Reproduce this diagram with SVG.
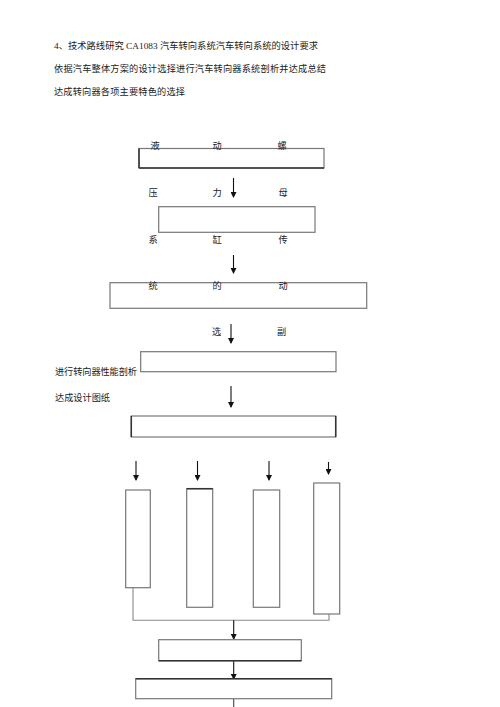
<svg xmlns="http://www.w3.org/2000/svg" width="500" height="707" viewBox="0 0 500 707">
<defs>
<marker id="ah" markerWidth="6" markerHeight="6" refX="5" refY="3" orient="auto" markerUnits="userSpaceOnUse">
<path d="M0,0 L6,3 L0,6 z" fill="#111"/>
</marker>
<style>
.t{font-family:"Liberation Serif","Noto Sans CJK SC",serif;font-size:9.2px;fill:#222}
.l{font-family:"Liberation Serif","Noto Sans CJK SC",serif;font-size:9.2px;fill:#222;text-anchor:middle}
.box{fill:#fff;stroke:#777;stroke-width:1.2}
.edge{stroke:#333;stroke-width:1.5}
.arr{stroke:#111;stroke-width:1.1;fill:none;marker-end:url(#ah)}
.con{stroke:#888;stroke-width:1.1;fill:none}
</style>
</defs>
<rect width="500" height="707" fill="#fff"/>
<g id="header">
<text class="t" x="54" y="48.5" textLength="264" lengthAdjust="spacingAndGlyphs">4、技术路线研究 CA1083 汽车转向系统汽车转向系统的设计要求</text>
<text class="t" x="54" y="72" textLength="272" lengthAdjust="spacing">依据汽车整体方案的设计选择进行汽车转向器系统剖析并达成总结</text>
<text class="t" x="54" y="95" textLength="131" lengthAdjust="spacing">达成转向器各项主要特色的选择</text>
</g>
<g id="connectors">
<line class="arr" x1="233.5" y1="178" x2="233.5" y2="197"/>
<line class="arr" x1="233.5" y1="255" x2="233.5" y2="273"/>
<line class="arr" x1="231" y1="324" x2="231" y2="343"/>
<line class="arr" x1="231" y1="386" x2="231" y2="407"/>
<line class="arr" x1="136" y1="461" x2="136" y2="480"/>
<line class="arr" x1="197.5" y1="461" x2="197.5" y2="480"/>
<line class="arr" x1="269" y1="461" x2="269" y2="480"/>
<line class="arr" x1="328.5" y1="462" x2="328.5" y2="474"/>
<polyline class="con" points="133,587.7 133,620.3 329,620.3 329,614"/>
<line class="arr" x1="233.7" y1="620.3" x2="233.7" y2="639"/>
<line class="arr" x1="233.7" y1="660.7" x2="233.7" y2="679"/>
<line x1="233.7" y1="698.7" x2="233.7" y2="707" stroke="#444" stroke-width="1.1"/>
</g>
<g id="node1">
<rect class="box" x="139" y="148.5" width="185" height="19.5"/>
<line class="edge" x1="139" y1="168" x2="324" y2="168"/>
<line class="edge" x1="139" y1="148.5" x2="139" y2="168"/>
<text class="l" x="155" y="148.5">液</text>
<text class="l" x="217" y="148.5">动</text>
<text class="l" x="282" y="148.5">螺</text>
</g>
<g id="labels2">
<text class="l" x="153" y="196">压</text>
<text class="l" x="217" y="196">力</text>
<text class="l" x="283" y="196">母</text>
</g>
<g id="node2">
<rect class="box" x="158.7" y="206.7" width="156.3" height="25.6"/>
</g>
<g id="labels3">
<text class="l" x="153" y="243">系</text>
<text class="l" x="217" y="243">缸</text>
<text class="l" x="283" y="243">传</text>
</g>
<g id="node3">
<rect class="box" x="110" y="282.7" width="256.7" height="25.6"/>
<text class="l" x="153" y="289">统</text>
<text class="l" x="217" y="289">的</text>
<text class="l" x="283" y="289">动</text>
</g>
<g id="labels4">
<text class="l" x="216.7" y="335">选</text>
<text class="l" x="281.7" y="335">副</text>
</g>
<g id="node4">
<rect class="box" x="140.7" y="351.7" width="195.3" height="20"/>
</g>
<g id="sidelabels">
<text class="t" x="55" y="375" textLength="82" lengthAdjust="spacing">进行转向器性能剖析</text>
<text class="t" x="55" y="401" textLength="55" lengthAdjust="spacing">达成设计图纸</text>
</g>
<g id="node5">
<rect class="box" x="131.3" y="416" width="204.4" height="21"/>
<line class="edge" x1="131.3" y1="416" x2="131.3" y2="437"/>
<line class="edge" x1="335.7" y1="416" x2="335.7" y2="437"/>
</g>
<g id="nodeA">
<rect class="box" x="125.7" y="490" width="24.6" height="97.7"/>
</g>
<g id="nodeB">
<rect class="box" x="186.7" y="488.7" width="26" height="118.6"/>
<line class="edge" x1="186.7" y1="488.7" x2="212.7" y2="488.7"/>
</g>
<g id="nodeC">
<rect class="box" x="253.3" y="490" width="26.4" height="117.3"/>
</g>
<g id="nodeD">
<rect class="box" x="313.7" y="483" width="26" height="131"/>
</g>
<g id="node6">
<rect class="box" x="158.7" y="639.7" width="142.6" height="21"/>
<line class="edge" x1="158.7" y1="660.7" x2="301.3" y2="660.7"/>
</g>
<g id="node7">
<rect class="box" x="135.7" y="678.7" width="196" height="20"/>
<line class="edge" x1="135.7" y1="678.7" x2="331.7" y2="678.7"/>
</g>
</svg>
